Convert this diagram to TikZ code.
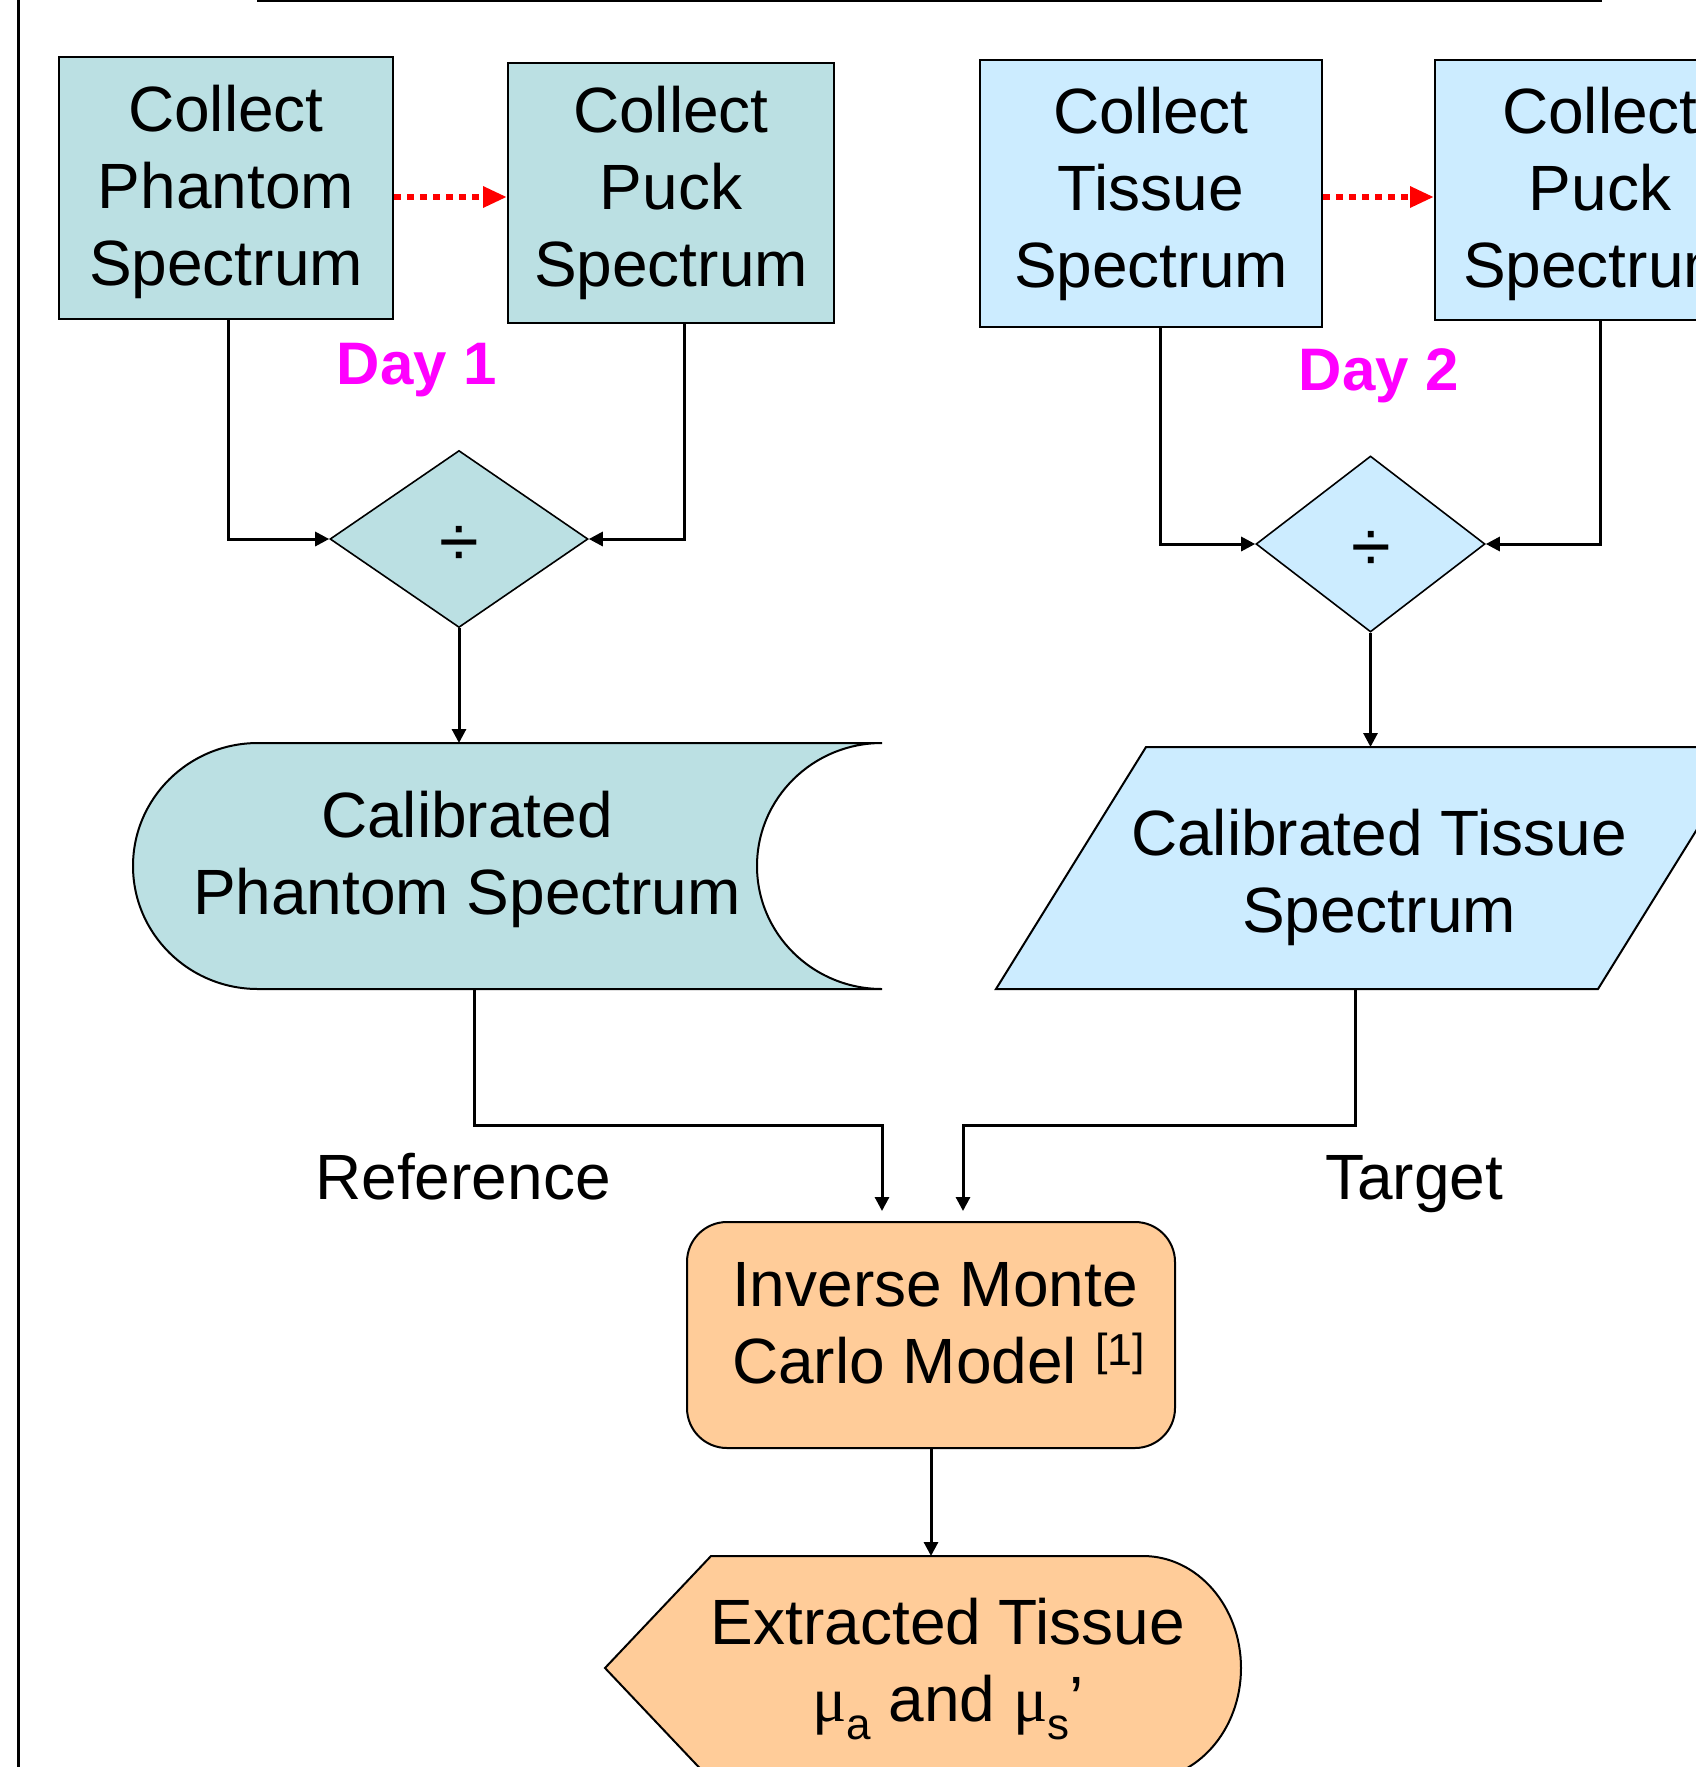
\documentclass[tikz,border=0pt]{standalone}
\usepackage{fontspec}
\setmainfont{Liberation Sans}
\newfontfamily\symserif{Liberation Serif}
\usetikzlibrary{shapes.geometric,arrows.meta,calc}
\definecolor{tealfill}{RGB}{187,224,227}
\definecolor{bluefill}{RGB}{204,236,255}
\definecolor{orangefill}{RGB}{255,204,153}
\definecolor{daymagenta}{RGB}{255,0,255}
\definecolor{dayred}{RGB}{255,0,0}
\begin{document}
\begin{tikzpicture}[x=0.5pt,y=-0.5pt,
  txt/.style={font=\fontsize{32}{38.5}\selectfont, align=center, inner sep=0pt},
  procbox/.style={draw=black, line width=1pt, inner sep=0pt, txt},
  decbox/.style={diamond, draw=black, line width=0.8pt, inner sep=0pt},
  divsym/.style={font=\fontsize{36}{40}\selectfont, inner sep=0pt},
  shapeline/.style={draw=black, line width=1pt},
  anchorbox/.style={inner sep=0pt, outer sep=0pt},
  conn/.style={draw=black, line width=1.5pt, -{Triangle[length=7pt,width=7pt]}},
  nextday/.style={draw=dayred, line width=3pt, dash pattern=on 3.5pt off 3pt, -{Triangle[length=12pt,width=10pt]}},
  daylbl/.style={font=\fontsize{30}{36}\selectfont\bfseries, text=daymagenta, inner sep=0pt}]
\useasboundingbox (0,0) rectangle (1696,1767);
\clip (0,0) rectangle (1696,1767);
\fill[white] (0,0) rectangle (1696,1767);

% frame lines
\coordinate (ltop) at (18,0);
\coordinate (lbot) at (18,1767);
\draw[line width=1.5pt] (ltop) -- (lbot);
\coordinate (ttl) at (257,1);
\coordinate (ttr) at (1602,1);
\draw[line width=1pt] (ttl) -- (ttr);

% top boxes
\node[procbox, fill=tealfill, minimum width=167pt, minimum height=131pt, text depth=2.2pt] (ph) at (226,188) {Collect\\Phantom\\Spectrum};
\node[procbox, fill=tealfill, minimum width=163pt, minimum height=130pt] (pk1) at (671,193) {Collect\\Puck\\Spectrum};
\node[procbox, fill=bluefill, minimum width=171pt, minimum height=133.5pt] (ts) at (1151,193.5) {Collect\\Tissue\\Spectrum};
\node[procbox, fill=bluefill, minimum width=165pt, minimum height=130pt, text depth=2.2pt] (pk2) at (1600,190) {Collect\\Puck\\Spectrum};

% red dotted arrows
\draw[nextday] ($(ph.east)+(0,9)$) -- ($(pk1.west)+(0,4)$);
\draw[nextday] ($(ts.east)+(0,3.5)$) -- ($(pk2.west)+(0,7)$);

% day labels
\node[daylbl] (day1) at (417,370) {Day 1};
\node[daylbl] (day2) at (1379,376) {Day 2};

% diamonds
\node[decbox, fill=tealfill, minimum width=129pt, minimum height=88.5pt] (d1) at (459,539) {};
\node[divsym] (d1sym) at (459,546) {÷};
\node[decbox, fill=bluefill, minimum width=114.5pt, minimum height=88pt] (d2) at (1370.5,544) {};
\node[divsym] (d2sym) at (1371,551) {÷};

% calibrated phantom (stored data)
\path[shapeline, fill=tealfill] (258,743) -- (882,743)
  arc[start angle=90, end angle=270, x radius=62.5pt, y radius=61.5pt]
  -- (258,989)
  arc[start angle=270, end angle=90, x radius=62.5pt, y radius=61.5pt] -- cycle;
\node[anchorbox, minimum width=374.5pt, minimum height=123pt] (calp) at (507.5,866) {};
\node[txt] (calpt) at (467,859) {Calibrated\\Phantom Spectrum};

% calibrated tissue (parallelogram)
\path[shapeline, fill=bluefill] (1146,747) -- (1748,747) -- (1598,989) -- (996,989) -- cycle;
\node[anchorbox, minimum width=301pt, minimum height=121pt] (calt) at (1372,868) {};
\node[txt] (caltt) at (1379,877) {Calibrated Tissue\\Spectrum};

% connectors top
\draw[conn] ($(ph.south)+(2,0)$) |- (d1.west);
\draw[conn] ($(pk1.south)+(13,0)$) |- (d1.east);
\draw[conn] ($(ts.south)+(9,0)$) |- (d2.west);
\draw[conn] (pk2.south) |- (d2.east);
\draw[conn] (d1.south) -- (d1.south |- calp.north);
\draw[conn] (d2.south) -- (d2.south |- calt.north);

% inverse monte carlo
\node[draw=black, line width=1pt, rounded corners=20pt, fill=orangefill, minimum width=244pt, minimum height=113pt, inner sep=0pt] (imc) at (931,1335) {};
\node[txt, align=left] (imct) at (939,1323) {Inverse Monte\\Carlo Model \textsuperscript{[1]}};

\coordinate (refin) at (882,1211);
\coordinate (tgtin) at (963,1211);
\draw[conn] ($(calp.south)+(-33.5,0)$) -- ++(0,136) -| (refin);
\draw[conn] ($(calt.south)+(-17,0)$) -- ++(0,136) -| (tgtin);

\node[txt, anchor=base] (reflbl) at (463,1199) {Reference};
\node[txt, anchor=base] (tgtlbl) at (1414,1199) {Target};

% extracted tissue (display)
\path[shapeline, fill=orangefill] (711,1556) -- (605,1668) -- (711,1780) -- (1143,1780)
  arc[start angle=270, end angle=450, x radius=49pt, y radius=56pt] -- cycle;
\node[anchorbox, minimum width=318pt, minimum height=112pt] (disp) at (923,1668) {};
\node[txt] (dispt) at (948,1669) {Extracted Tissue\\{\symserif μ}\raisebox{-0.28em}{\fontsize{22}{22}\selectfont a} and {\symserif μ}\raisebox{-0.28em}{\fontsize{22}{22}\selectfont s}’};

\draw[conn] (imc.south) -- (imc.south |- disp.north);
\end{tikzpicture}
\end{document}
